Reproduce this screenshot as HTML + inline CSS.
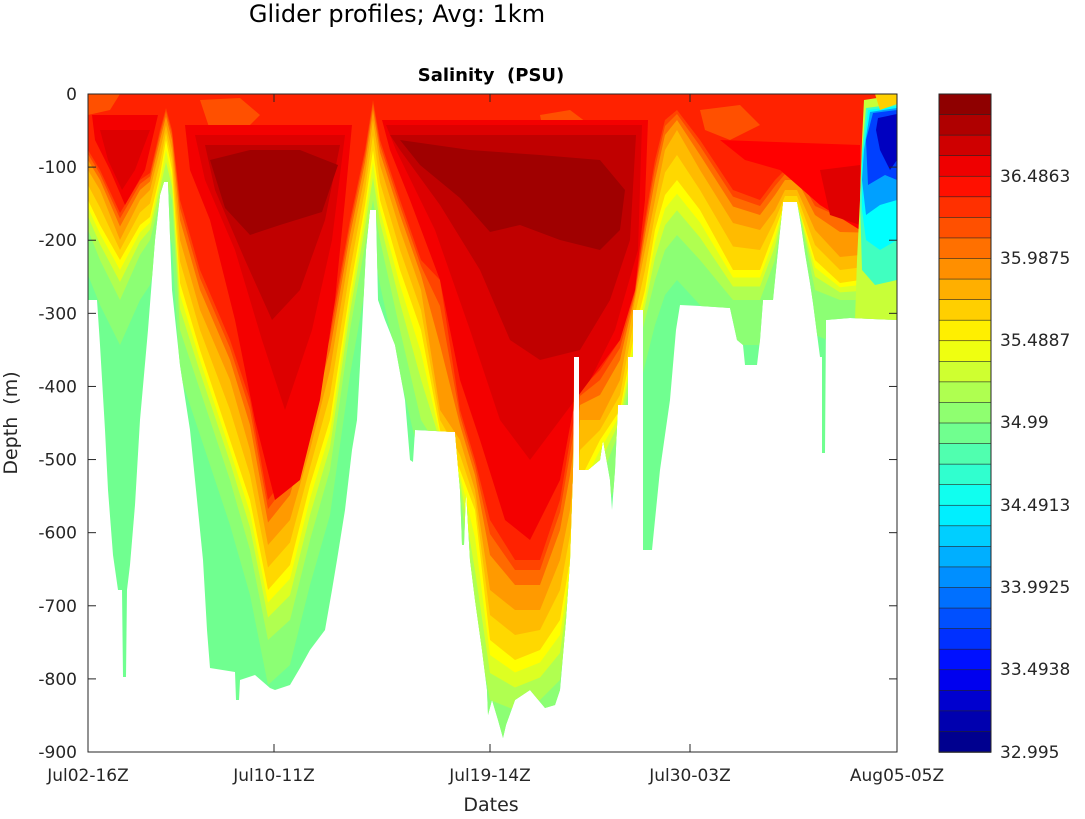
<!DOCTYPE html>
<html><head><meta charset="utf-8"><style>
body{margin:0;background:#fff;}
svg text{font-family:"DejaVu Sans","Liberation Sans",sans-serif;fill:#262626;}
</style></head><body>
<svg id="s" width="1085" height="814" viewBox="0 0 1085 814" xmlns="http://www.w3.org/2000/svg">
<defs>
<clipPath id="d"><polygon points="88,94 897,94 897,320 850,318 826,320 825,453 822,453 822,357 820,357 813,303 810,283 805,253 801,225 797,202 783,202 777,260 773,300 763,300 760,340 757,365 745,365 743,345 737,340 730,308 700,306 680,305 676,330 670,400 660,470 656,510 652,550 643,550 643,310 633,310 633,357 628,357 628,405 618,405 615,470 612,510 610,480 603,440 600,460 588,470 579,470 579,357 574,357 573,470 570,560 566,620 560,690 555,705 545,708 530,690 515,700 506,725 503,738 498,720 492,700 488,715 487,690 482,650 475,600 470,560 466,490 464,545 462,545 460,490 455,432 415,430 413,462 410,460 405,400 395,345 385,320 378,300 376,210 370,210 366,250 362,330 357,420 352,450 345,510 337,560 332,590 325,630 310,650 300,668 290,685 275,690 270,688 255,675 240,680 239,700 236,700 235,672 210,668 207,630 203,560 197,500 190,430 180,365 172,290 168,182 164,182 160,195 155,240 148,330 140,420 135,505 130,565 127,590 126,677 123,677 122,590 118,590 113,555 108,490 105,430 100,345 97,300 88,300"/></clipPath>
</defs>
<g clip-path="url(#d)">
<rect x="88" y="94" width="809" height="658" fill="#70ff90"/>
<g id="layers"></g>
<polygon fill="#ff5000" points="200,100 240,98 260,115 240,135 210,130"/>
<polygon fill="#ff5000" points="540,115 570,110 590,125 575,145 545,140"/>
<polygon fill="#ff5000" points="700,110 740,105 760,125 730,140 705,130"/>
<polygon fill="#ff5000" points="88,94 120,94 110,110 88,115"/>
<polygon fill="#f40000" points="92,115 158,115 145,170 125,205 110,170 95,140"/>
<polygon fill="#dd0000" points="100,130 150,130 135,170 122,190 108,160"/>
<polygon fill="#f40000" points="185,125 352,125 345,200 335,300 320,400 300,480 275,500 255,420 235,320 210,220 190,170"/>
<polygon fill="#dd0000" points="195,135 345,135 332,240 312,330 285,410 262,340 235,250 205,180"/>
<polygon fill="#c00000" points="205,145 340,145 325,220 300,290 272,320 245,260 215,190"/>
<polygon fill="#a00000" points="210,160 250,150 300,150 338,165 322,212 280,225 250,235 225,208"/>
<polygon fill="#f40000" points="382,120 648,120 645,200 635,290 620,340 575,400 560,480 530,540 505,520 480,440 460,380 440,280 410,200 390,150"/>
<polygon fill="#dd0000" points="386,125 642,125 638,250 615,330 590,380 560,420 530,460 500,420 470,330 435,230 396,150"/>
<polygon fill="#c00000" points="390,135 636,135 630,240 610,300 580,350 540,360 510,340 480,270 440,205 400,150"/>
<polygon fill="#a00000" points="400,140 470,150 540,155 600,160 625,190 620,230 600,250 560,240 520,225 490,232 460,198 420,165"/>
<polygon fill="#ff0000" points="720,140 860,145 860,230 820,205 780,170 745,160"/>
<polygon fill="#e00000" points="820,170 860,165 860,225 830,215"/>
<polygon fill="#c8ff38" points="864,100 897,95 897,320 855,320 857,260 860,200 862,140"/>
<polygon fill="#40ffc0" points="866,108 897,104 897,280 875,285 862,270 860,200 862,150"/>
<polygon fill="#00ffff" points="868,110 897,106 897,240 880,250 866,240 862,210 862,160"/>
<polygon fill="#00a0ff" points="870,112 897,108 897,200 880,205 866,215 862,180 864,150"/>
<polygon fill="#0040ff" points="873,113 897,110 897,180 885,175 868,185 866,140"/>
<polygon fill="#0000c0" points="878,118 897,114 897,160 890,170 880,150 876,130"/>
<polygon fill="#ffd000" points="875,94 897,94 897,104 880,110"/>
</g>
<rect x="88" y="94" width="809" height="658" fill="none" stroke="#262626" stroke-width="1"/>
<g id="ticks" stroke="#262626" stroke-width="1"></g>
<g font-size="17" text-anchor="end" id="yl"></g>
<g font-size="17" text-anchor="middle">
<text x="88" y="781">Jul02-16Z</text><text x="274" y="781">Jul10-11Z</text><text x="490" y="781">Jul19-14Z</text><text x="690" y="781">Jul30-03Z</text><text x="897" y="781">Aug05-05Z</text>
</g>
<text x="491" y="811" font-size="19" text-anchor="middle">Dates</text>
<text transform="translate(17,423) rotate(-90)" font-size="19" text-anchor="middle">Depth&#160;&#160;(m)</text>
<text x="491" y="81" font-size="18" font-weight="bold" text-anchor="middle" style="fill:#000">Salinity&#160;&#160;(PSU)</text>
<text x="397" y="22" font-size="24" text-anchor="middle" style="fill:#000">Glider profiles; Avg: 1km</text>
<g id="cb"></g>
<g font-size="17" text-anchor="start">
<text x="1000" y="182">36.4863</text><text x="1000" y="264">35.9875</text><text x="1000" y="346">35.4887</text><text x="1000" y="428">34.99</text><text x="1000" y="511">34.4913</text><text x="1000" y="593">33.9925</text><text x="1000" y="675">33.4938</text><text x="1000" y="758">32.995</text>
</g>
</svg>
<script>
var NS="http://www.w3.org/2000/svg";
function el(t,a,p){var e=document.createElementNS(NS,t);for(var k in a)e.setAttribute(k,a[k]);p.appendChild(e);return e;}
var X=[88,100,120,140,150,160,166,172,180,200,230,250,268,290,310,330,350,365,373,380,400,421,440,460,475,490,515,540,560,570,580,600,620,635,645,655,665,677,700,733,760,775,785,797,815,840,860,897];
var Lr=[150,170,213,180,173,130,108,130,200,270,340,400,500,470,400,330,220,150,100,140,200,260,280,410,460,520,560,560,500,440,390,370,340,290,220,160,120,110,140,190,200,180,170,170,200,207,210,215];
var Lo=[170,190,240,200,190,150,125,150,240,310,380,450,545,520,450,370,250,175,120,165,230,290,410,440,490,590,610,610,560,510,420,420,380,300,250,200,150,130,170,223,230,210,190,190,230,257,255,260];
var Ly=[200,225,260,225,217,175,140,170,283,350,440,500,590,565,485,420,290,205,150,200,270,330,430,470,510,640,660,650,620,560,480,440,410,330,290,230,195,180,210,270,270,230,202,202,260,283,280,300];
var Lg=[230,260,300,255,240,200,180,200,330,390,480,550,640,620,540,470,330,245,200,240,330,420,450,490,620,700,710,700,680,600,520,480,430,360,320,280,250,235,260,300,300,260,202,202,290,300,300,300];
var lay=document.getElementById("layers");
function layer(A,B,f,off,col){var p="88,94 ";for(var i=0;i<X.length;i++){p+=X[i]+","+(A[i]+(B[i]-A[i])*f+off)+" ";}p+="897,94";el("polygon",{points:p,fill:col},lay);}
layer(Lg,Lg,0,45,"#8cff74");
layer(Lg,Lg,0,0,"#b0ff50");
layer(Lg,Ly,0.45,0,"#ddff22");
layer(Lg,Ly,0.75,0,"#ffff00");
layer(Ly,Ly,0,0,"#ffd800");
layer(Ly,Lo,0.5,0,"#ffbb00");
layer(Lo,Lo,0,0,"#ff9a00");
layer(Lo,Lr,0.5,0,"#ff6a00");
layer(Lo,Lr,0.8,0,"#ff4400");
layer(Lr,Lr,0,0,"#ff2200");
var tk=document.getElementById("ticks"),yl=document.getElementById("yl");
for(var k=0;k<=9;k++){var y=94+k*658/9;
el("line",{x1:88,y1:y,x2:96,y2:y},tk);el("line",{x1:889,y1:y,x2:897,y2:y},tk);
var t=el("text",{x:77,y:y+6},yl);t.textContent=k==0?"0":"-"+(k*100);}
[88,274,490,690,897].forEach(function(x){el("line",{x1:x,y1:752,x2:x,y2:744},tk);el("line",{x1:x,y1:94,x2:x,y2:102},tk);});
var cb=document.getElementById("cb");
function c(v){return Math.round(255*Math.max(0,Math.min(1,v)));}
var h=658/32;
for(var i=0;i<32;i++){var tt=(31-i+0.5)/32;
var r=c(1.5-Math.abs(4*tt-3)),g=c(1.5-Math.abs(4*tt-2)),b=c(1.5-Math.abs(4*tt-1));
el("rect",{x:939,y:94+i*h,width:52,height:h+0.5,fill:"rgb("+r+","+g+","+b+")",stroke:"#262626","stroke-width":0.6},cb);}
el("rect",{x:939,y:94,width:52,height:658,fill:"none",stroke:"#262626"},cb);
</script>
</body></html>
